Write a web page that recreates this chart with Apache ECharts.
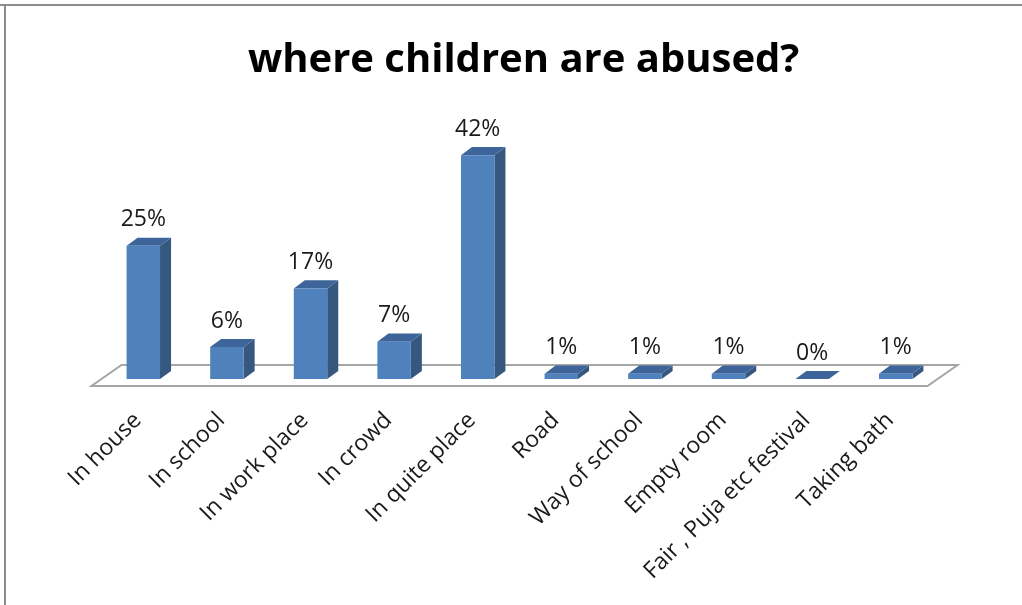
<!DOCTYPE html>
<html>
<head>
<meta charset="utf-8">
<title>where children are abused?</title>
<script src="https://cdn.jsdelivr.net/npm/echarts@6/dist/echarts.min.js"></script>
<style>
  html, body { margin: 0; padding: 0; background: #ffffff; }
  #chart { width: 1022px; height: 605px; }
</style>
</head>
<body>
<div id="chart"></div>
<script>
// Places where abuse happened, share of answers (%)
const categories = [
  'In house', 'In school', 'In work place', 'In crowd', 'In quite place',
  'Road', 'Way of school', 'Empty room', 'Fair , Puja etc festival', 'Taking bath'
];
const percentages = [25, 6, 17, 7, 42, 1, 1, 1, 0, 1];
const chartTitle = 'where children are abused?';

const FONT = '"Open Sans", "Noto Sans", sans-serif';
const FRONT = '#4F81BD';
const SIDE = '#36587F';
const TOP = '#3E6599';
const FLOOR_LINE = '#A6A6A6';

// Oblique depth of a bar and of the floor, as a share of one category band
const BAR_DEPTH = [0.132, -0.097];
const FLOOR_FRONT = 1 / 3;   // floor extends this far in front of the bar faces
const FLOOR_DEPTH = [0.36, -0.252];

function renderFloor(params, api) {
  const cs = params.coordSys;
  const band = api.size([1, 0])[0];
  const fx = -FLOOR_DEPTH[0] * band * FLOOR_FRONT;
  const fy = -FLOOR_DEPTH[1] * band * FLOOR_FRONT;
  const bx = fx + FLOOR_DEPTH[0] * band;
  const by = fy + FLOOR_DEPTH[1] * band;
  const y0 = cs.y + cs.height;
  const x0 = cs.x, x1 = cs.x + cs.width;
  return {
    type: 'polygon',
    shape: { points: [[x0 + fx, y0 + fy], [x1 + fx, y0 + fy], [x1 + bx, y0 + by], [x0 + bx, y0 + by]] },
    style: { fill: '#ffffff', stroke: FLOOR_LINE, lineWidth: 2 },
    z2: 0
  };
}

function renderBar(params, api) {
  const idx = api.value(0);
  const val = api.value(1);
  const base = api.coord([idx, 0]);
  const top = api.coord([idx, val]);
  const band = api.size([1, 0])[0];
  const w = band * 0.4;
  const dx = BAR_DEPTH[0] * band, dy = BAR_DEPTH[1] * band;
  const l = base[0] - w / 2, r = base[0] + w / 2;
  const b = base[1], t = top[1];
  return {
    type: 'group',
    children: [
      { type: 'polygon', shape: { points: [[r, b], [r + dx, b + dy], [r + dx, t + dy], [r, t]] },
        style: { fill: SIDE } },
      { type: 'polygon', shape: { points: [[l, t], [l + dx, t + dy], [r + dx, t + dy], [r, t]] },
        style: { fill: TOP } },
      { type: 'rect', shape: { x: l, y: t, width: w, height: b - t },
        style: { fill: FRONT } },
      { type: 'text', x: base[0], y: t - 26,
        style: { text: val + '%', fill: '#1a1a1a', font: '23px ' + FONT, align: 'center', verticalAlign: 'middle' } }
    ]
  };
}

const chart = echarts.init(document.getElementById('chart'), null, { renderer: 'canvas' });
chart.setOption({
  backgroundColor: '#ffffff',
  animation: false,
  title: {
    text: chartTitle,
    left: 243,
    top: 36,
    textStyle: { fontFamily: FONT, fontWeight: 'bold', fontSize: 40, color: '#000000' }
  },
  grid: { left: 101.5, right: 84.5, top: 112.5, bottom: 226 },
  xAxis: {
    type: 'category',
    data: categories,
    axisLine: { show: false },
    axisTick: { show: false },
    axisLabel: {
      interval: 0,
      rotate: 45,
      margin: 32,
      padding: [0, 8, 0, 0],
      fontFamily: FONT,
      fontSize: 23,
      color: '#1a1a1a'
    }
  },
  yAxis: { type: 'value', min: 0, max: 50, show: false },
  graphic: [
    { type: 'line', shape: { x1: 0, y1: 5, x2: 1022, y2: 5 }, style: { stroke: '#8C8C8C', lineWidth: 2 } },
    { type: 'line', shape: { x1: 5, y1: 4, x2: 5, y2: 605 }, style: { stroke: '#8C8C8C', lineWidth: 2 } }
  ],
  series: [
    { type: 'custom', name: 'floor', renderItem: renderFloor, data: [[0, 0]], z: 1, silent: true },
    {
      type: 'custom',
      name: 'share',
      renderItem: renderBar,
      data: percentages.map((v, i) => [i, v]),
      encode: { x: 0, y: 1 },
      z: 2
    }
  ]
});
</script>
</body>
</html>
